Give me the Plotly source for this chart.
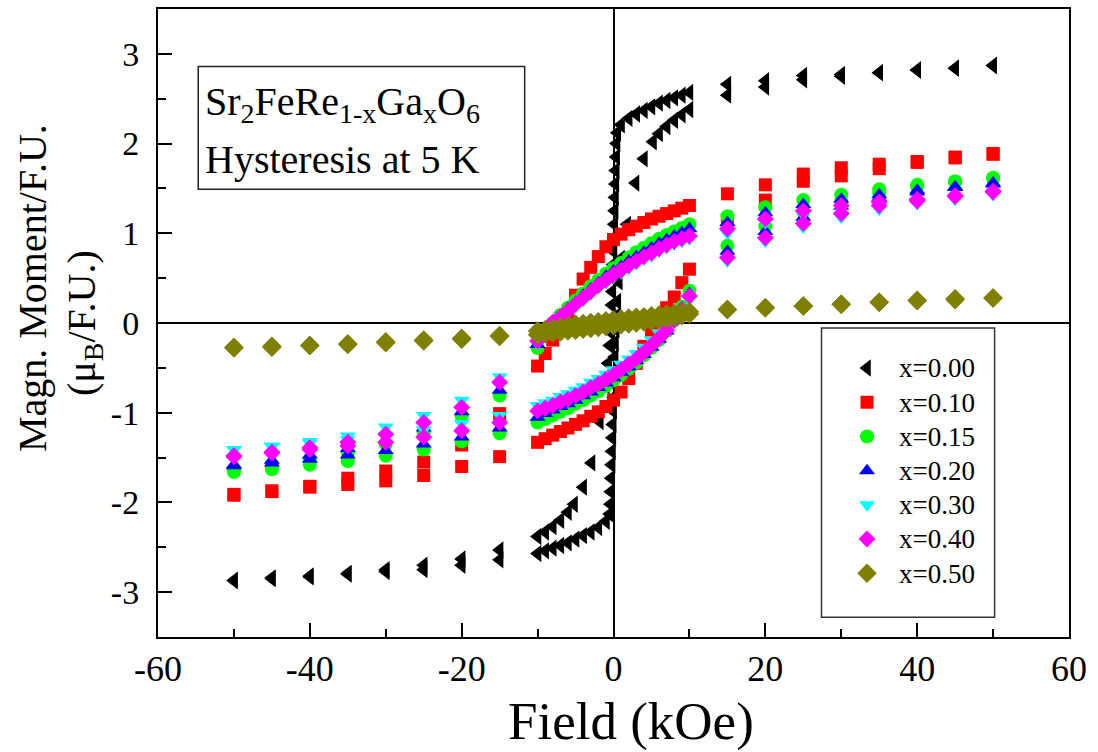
import plotly.graph_objects as go

# ---- field grid (kOe) shared by the doped samples ----
FIELD = [-50, -45, -40, -35, -30, -25, -20, -15,
         -10, -9, -8, -7, -6, -5, -4, -3, -2, -1, 0, 1, 2, 3, 4, 5, 6, 7, 8, 9, 10,
         15, 20, 25, 30, 35, 40, 45, 50]

# ---- x = 0.00 : sharp switching, own field points ----
FIELD_X000_DN = [-50, -45, -40, -35, -30, -25, -20, -15,
                 -10, -9, -8, -7, -6, -5.2, -4, -2.9, -1.8, -1, -0.7, -0.5, -0.4, -0.3, -0.2,
                 -0.15, -0.1, -0.05, 0, 0.05, 0.1, 0.15, 0.2, 0.25, 0.3, 0.35, 0.4, 0.5,
                 1, 2, 3, 4, 5, 6, 7, 8, 9, 10,
                 15, 20, 25, 30, 35, 40, 45, 50]
M_X000_DN = [-2.87, -2.84, -2.82, -2.79, -2.75, -2.70, -2.63, -2.53,
             -2.38, -2.33, -2.27, -2.20, -2.11, -2.02, -1.83, -1.56, -1.10, -0.70, -0.45, -0.25, -0.10, 0.05, 0.20,
             0.35, 0.50, 0.65, 0.80, 0.95, 1.10, 1.25, 1.40, 1.55, 1.70, 1.85, 2.00, 2.12,
             2.21, 2.28, 2.33, 2.37, 2.41, 2.45, 2.48, 2.51, 2.54, 2.57,
             2.66, 2.70, 2.76, 2.77, 2.79, 2.82, 2.84, 2.87]
FIELD_X000_UP = [-50, -45, -40, -35, -30, -25, -20, -15,
                 -10, -9, -8, -7, -6, -5, -4, -3, -2, -1, -0.5, -0.4, -0.35, -0.3, -0.25,
                 -0.2, -0.15, -0.1, -0.05, 0, 0.05, 0.1, 0.15, 0.2, 0.3, 0.4, 0.5, 0.7,
                 1, 1.8, 2.9, 4, 5.2, 6, 7, 8, 9, 10,
                 15, 20, 25, 30, 35, 40, 45, 50]
M_X000_UP = [-2.87, -2.85, -2.83, -2.80, -2.77, -2.75, -2.70, -2.64,
             -2.57, -2.54, -2.51, -2.48, -2.45, -2.41, -2.37, -2.33, -2.28, -2.21, -2.13, -2.02, -1.88, -1.73, -1.58,
             -1.43, -1.28, -1.13, -0.98, -0.83, -0.68, -0.53, -0.38, -0.22, -0.07, 0.08, 0.24, 0.46,
             0.72, 1.10, 1.56, 1.83, 2.02, 2.11, 2.19, 2.26, 2.32, 2.38,
             2.54, 2.63, 2.71, 2.75, 2.79, 2.82, 2.84, 2.87]

# ---- doped samples: descending (dn) and ascending (up) sweeps on FIELD ----
M_X010_DN = [-1.91, -1.87, -1.82, -1.73, -1.65, -1.55, -1.36, -1.01,
             -0.48, -0.34, -0.19, -0.04, 0.12, 0.31, 0.49, 0.62, 0.74, 0.85, 0.93, 0.99, 1.04,
             1.08, 1.12, 1.16, 1.19, 1.22, 1.25, 1.28, 1.31,
             1.44, 1.54, 1.66, 1.73, 1.77, 1.80, 1.85, 1.89]
M_X010_UP = [-1.92, -1.88, -1.83, -1.80, -1.76, -1.70, -1.60, -1.49,
             -1.33, -1.29, -1.25, -1.21, -1.17, -1.13, -1.09, -1.04, -0.99, -0.93, -0.86, -0.77, -0.62,
             -0.45, -0.26, -0.08, 0.06, 0.17, 0.29, 0.45, 0.60,
             1.10, 1.37, 1.58, 1.64, 1.72, 1.79, 1.84, 1.88]

M_X015_DN = [-1.64, -1.59, -1.53, -1.45, -1.35, -1.22, -1.04, -0.81,
             -0.28, -0.12, 0.00, 0.09, 0.17, 0.25, 0.33, 0.41, 0.48, 0.55, 0.61, 0.67, 0.73,
             0.79, 0.84, 0.89, 0.94, 0.98, 1.02, 1.06, 1.10,
             1.19, 1.29, 1.37, 1.43, 1.49, 1.54, 1.58, 1.62]
M_X015_UP = [-1.66, -1.63, -1.58, -1.54, -1.48, -1.41, -1.32, -1.23,
             -1.11, -1.07, -1.03, -0.99, -0.95, -0.90, -0.86, -0.81, -0.76, -0.70, -0.64, -0.58, -0.51,
             -0.44, -0.36, -0.28, -0.19, -0.09, 0.03, 0.18, 0.36,
             0.86, 1.08, 1.24, 1.36, 1.45, 1.52, 1.57, 1.61]

M_X020_DN = [-1.58, -1.53, -1.47, -1.40, -1.30, -1.17, -0.99, -0.75,
             -0.24, -0.10, 0.00, 0.08, 0.16, 0.23, 0.31, 0.38, 0.45, 0.52, 0.58, 0.63, 0.69,
             0.74, 0.79, 0.84, 0.89, 0.93, 0.97, 1.01, 1.05,
             1.12, 1.23, 1.32, 1.38, 1.43, 1.48, 1.52, 1.56]
M_X020_UP = [-1.59, -1.56, -1.52, -1.47, -1.42, -1.35, -1.27, -1.17,
             -1.05, -1.01, -0.97, -0.93, -0.90, -0.86, -0.81, -0.77, -0.72, -0.67, -0.61, -0.55, -0.49,
             -0.42, -0.35, -0.27, -0.18, -0.09, 0.03, 0.17, 0.33,
             0.80, 1.02, 1.18, 1.30, 1.40, 1.46, 1.51, 1.55]

M_X030_DN = [-1.41, -1.37, -1.32, -1.26, -1.16, -1.03, -0.86, -0.60,
             -0.23, -0.11, -0.02, 0.04, 0.11, 0.18, 0.25, 0.32, 0.39, 0.45, 0.51, 0.56, 0.61,
             0.66, 0.71, 0.75, 0.80, 0.84, 0.88, 0.91, 0.94,
             1.00, 1.12, 1.21, 1.27, 1.32, 1.35, 1.39, 1.44]
M_X030_UP = [-1.41, -1.38, -1.34, -1.30, -1.25, -1.19, -1.12, -1.03,
             -0.92, -0.89, -0.86, -0.82, -0.79, -0.75, -0.71, -0.66, -0.62, -0.57, -0.52, -0.46, -0.40,
             -0.34, -0.27, -0.19, -0.11, -0.02, 0.01, 0.12, 0.26,
             0.69, 0.91, 1.07, 1.18, 1.27, 1.33, 1.38, 1.43]

M_X040_DN = [-1.48, -1.44, -1.39, -1.33, -1.24, -1.11, -0.94, -0.66,
             -0.20, -0.08, 0.01, 0.07, 0.14, 0.21, 0.28, 0.35, 0.42, 0.48, 0.54, 0.59, 0.64,
             0.69, 0.74, 0.78, 0.83, 0.87, 0.91, 0.94, 0.97,
             1.05, 1.16, 1.25, 1.31, 1.35, 1.38, 1.42, 1.47]
M_X040_UP = [-1.49, -1.45, -1.41, -1.37, -1.33, -1.27, -1.20, -1.11,
             -0.98, -0.95, -0.92, -0.88, -0.85, -0.81, -0.77, -0.72, -0.68, -0.63, -0.58, -0.52, -0.46,
             -0.40, -0.33, -0.25, -0.17, -0.08, 0.03, 0.15, 0.30,
             0.73, 0.95, 1.11, 1.22, 1.31, 1.36, 1.41, 1.46]

M_X050_DN = [-0.27, -0.26, -0.25, -0.23, -0.21, -0.19, -0.17, -0.14,
             -0.09, -0.075, -0.06, -0.045, -0.03, -0.015, -0.005, 0.005, 0.015, 0.025, 0.035, 0.045, 0.055,
             0.065, 0.07, 0.08, 0.09, 0.10, 0.11, 0.12, 0.125,
             0.15, 0.17, 0.19, 0.21, 0.23, 0.25, 0.26, 0.28]
M_X050_UP = [-0.28, -0.27, -0.25, -0.24, -0.22, -0.20, -0.18, -0.15,
             -0.13, -0.12, -0.11, -0.10, -0.09, -0.08, -0.07, -0.06, -0.05, -0.04, -0.03, -0.02, -0.01,
             0.00, 0.01, 0.02, 0.035, 0.05, 0.065, 0.08, 0.10,
             0.15, 0.17, 0.19, 0.21, 0.23, 0.25, 0.27, 0.28]

LABELS = ["x=0.00", "x=0.10", "x=0.15", "x=0.20", "x=0.30", "x=0.40", "x=0.50"]
X_TICKS = [-60, -40, -20, 0, 20, 40, 60]
X_TICK_TEXT = ["-60", "-40", "-20", "0", "20", "40", "60"]
Y_TICKS = [-3, -2, -1, 0, 1, 2, 3]
Y_TICK_TEXT = ["-3", "-2", "-1", "0", "1", "2", "3"]

SERIF = "Liberation Serif, Times New Roman, serif"

series = [
    (LABELS[0], FIELD_X000_DN + FIELD_X000_UP, M_X000_DN + M_X000_UP, "triangle-left", "#000000", 15),
    (LABELS[1], FIELD + FIELD, M_X010_DN + M_X010_UP, "square", "#ff0000", 13),
    (LABELS[2], FIELD + FIELD, M_X015_DN + M_X015_UP, "circle", "#00ff00", 14),
    (LABELS[3], FIELD + FIELD, M_X020_DN + M_X020_UP, "triangle-up", "#0000ff", 14),
    (LABELS[4], FIELD + FIELD, M_X030_DN + M_X030_UP, "triangle-down", "#00ffff", 14),
    (LABELS[5], FIELD + FIELD, M_X040_DN + M_X040_UP, "diamond", "#ff00ff", 13),
    (LABELS[6], FIELD + FIELD, M_X050_DN + M_X050_UP, "diamond", "#808000", 15),
]

fig = go.Figure()
for name, xs, ys, sym, col, size in series:
    fig.add_trace(go.Scatter(
        x=xs, y=ys, mode="markers",
        # legend label drawn a little larger than the row pitch set by legend.font
        name='<span style="font-size:27px">%s</span>' % name,
        marker=dict(symbol=sym, color=col, size=size, line=dict(width=0)),
    ))

axis_common = dict(
    showline=True, linecolor="black", linewidth=2, mirror=True,
    showgrid=False, ticks="inside", ticklen=14, tickwidth=2, tickcolor="black",
    zeroline=True, zerolinecolor="black", zerolinewidth=1.6,
    tickmode="array",
)

fig.update_xaxes(
    range=[-60, 60], tickvals=X_TICKS, ticktext=X_TICK_TEXT,
    tickfont=dict(family=SERIF, size=36, color="black"), ticklabelstandoff=-1,
    minor=dict(ticks="inside", ticklen=8, tickwidth=2, tickcolor="black",
               tickmode="linear", tick0=0, dtick=10, showgrid=False),
    **axis_common,
)
fig.update_yaxes(
    range=[-3.5, 3.5], tickvals=Y_TICKS, ticktext=Y_TICK_TEXT,
    tickfont=dict(family=SERIF, size=34, color="black"), ticklabelstandoff=10,
    minor=dict(ticks="inside", ticklen=8, tickwidth=2, tickcolor="black",
               tickmode="linear", tick0=0, dtick=0.5, showgrid=False),
    **axis_common,
)

# framed sample caption and legend frame (data coordinates)
fig.add_shape(type="rect", xref="x", yref="y", x0=-54.7, x1=-11.7, y0=1.49, y1=2.86,
              line=dict(color="#222222", width=1.5), fillcolor="white", layer="above")
fig.add_shape(type="rect", xref="x", yref="y", x0=27.4, x1=50.2, y0=-3.28, y1=-0.056,
              line=dict(color="#333333", width=1.5), fillcolor="white", layer="below")

fig.add_annotation(xref="x", yref="y", x=-54.1, y=2.744, xanchor="left", yanchor="top",
                   text="Sr<sub>2</sub>FeRe<sub>1-x</sub>Ga<sub>x</sub>O<sub>6</sub>",
                   showarrow=False, font=dict(family=SERIF, size=40, color="black"))
fig.add_annotation(xref="x", yref="y", x=-54.1, y=2.10, xanchor="left", yanchor="top",
                   text="Hysteresis at 5 K",
                   showarrow=False, font=dict(family=SERIF, size=40, color="black"))

# axis titles
fig.add_annotation(xref="paper", yref="paper", x=0.519, y=-0.134, xanchor="center", yanchor="middle",
                   text="Field (kOe)", showarrow=False,
                   font=dict(family=SERIF, size=53, color="black"))
fig.add_annotation(xref="paper", yref="paper", x=-0.1383, y=0.5556, xanchor="center", yanchor="middle",
                   text="Magn. Moment/F.U.", textangle=-90, showarrow=False,
                   font=dict(family=SERIF, size=40, color="black"))
fig.add_annotation(xref="paper", yref="paper", x=-0.0812, y=0.50, xanchor="center", yanchor="middle",
                   text="(\u03bc<sub>B</sub>/F.U.)", textangle=-90, showarrow=False,
                   font=dict(family=SERIF, size=40, color="black"))

fig.update_layout(
    width=1098, height=752,
    margin=dict(l=158, r=29, t=7, b=115),
    paper_bgcolor="white", plot_bgcolor="white",
    showlegend=True,
    legend=dict(
        x=(835 - 158) / 911, y=(637 - 345) / 630, xanchor="left", yanchor="top",
        bgcolor="rgba(0,0,0,0)", borderwidth=0,
        font=dict(family=SERIF, size=24, color="black"),
        itemwidth=54, tracegroupgap=0,
    ),
)

fig.write_html("out.html")
